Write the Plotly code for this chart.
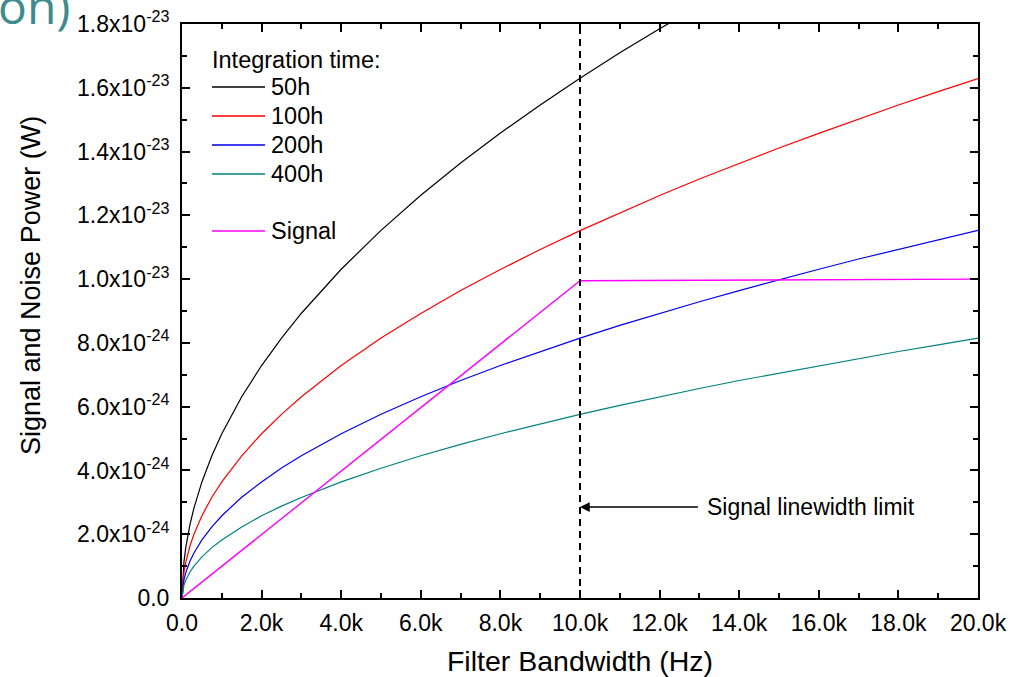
import plotly.graph_objects as go
import numpy as np

SCALE = 1e-23  # values below are in units of 1e-23 W

bandwidth_hz = [0, 50, 100, 200, 300, 500, 750, 1000, 1500, 2000, 2500, 3000, 4000, 5000,
                6000, 7000, 8000, 9000, 10000, 11000, 12000, 13000, 14000, 15000, 16000,
                17000, 18000, 19000, 20000]

noise_50h = [0, 0.115, 0.163, 0.230, 0.282, 0.364, 0.446, 0.515, 0.631, 0.729, 0.815, 0.893,
             1.031, 1.153, 1.263, 1.364, 1.458, 1.546, 1.630, 1.710, 1.785, 1.859, 1.929,
             1.996, 2.062, 2.125, 2.187, 2.247, 2.305]
noise_100h = [0, 0.0815, 0.115, 0.163, 0.200, 0.258, 0.316, 0.364, 0.446, 0.515, 0.576, 0.631,
              0.729, 0.815, 0.892, 0.964, 1.030, 1.093, 1.152, 1.208, 1.262, 1.314, 1.363,
              1.411, 1.457, 1.502, 1.546, 1.588, 1.629]
noise_200h = [0, 0.0576, 0.0815, 0.115, 0.141, 0.182, 0.223, 0.258, 0.316, 0.364, 0.408, 0.446,
              0.515, 0.576, 0.631, 0.682, 0.729, 0.773, 0.815, 0.855, 0.893, 0.929, 0.964,
              0.998, 1.031, 1.063, 1.093, 1.123, 1.153]
noise_400h = [0, 0.0407, 0.0576, 0.0815, 0.0998, 0.129, 0.158, 0.182, 0.223, 0.258, 0.288, 0.315,
              0.364, 0.407, 0.446, 0.482, 0.515, 0.546, 0.576, 0.604, 0.631, 0.657, 0.682,
              0.705, 0.729, 0.751, 0.773, 0.794, 0.815]

signal_bw_hz = [0, 10000, 20000]
signal_power = [0, 0.995, 1.0]

linewidth_limit_hz = 10000

series_names = ["50h", "100h", "200h", "400h", "Signal"]
series_colors = ["#000000", "#ff0000", "#0000ee", "#008080", "#ff00ff"]

x_tick_vals = [0, 2000, 4000, 6000, 8000, 10000, 12000, 14000, 16000, 18000, 20000]
x_tick_text = ["0.0", "2.0k", "4.0k", "6.0k", "8.0k", "10.0k", "12.0k", "14.0k", "16.0k",
               "18.0k", "20.0k"]
y_tick_vals = [0, 0.2, 0.4, 0.6, 0.8, 1.0, 1.2, 1.4, 1.6, 1.8]
y_tick_text = ["0.0", "2.0x10<sup>-24</sup>", "4.0x10<sup>-24</sup>", "6.0x10<sup>-24</sup>",
               "8.0x10<sup>-24</sup>", "1.0x10<sup>-23</sup>", "1.2x10<sup>-23</sup>",
               "1.4x10<sup>-23</sup>", "1.6x10<sup>-23</sup>", "1.8x10<sup>-23</sup>"]

FONT = "Liberation Sans, Arial, sans-serif"
TICK_SIZE = 23
LEG_SIZE = 23.5

# plot area in pixels (for layout helpers)
L, R, T, B = 182, 978, 24, 598
def px(xp):
    return (xp - L) / (R - L)
def py(yp):
    return (B - yp) / (B - T)

fig = go.Figure()
noise_series = [noise_50h, noise_100h, noise_200h, noise_400h]
for name, vals, col in zip(series_names[:4], noise_series, series_colors[:4]):
    fig.add_trace(go.Scatter(x=bandwidth_hz, y=np.array(vals) * SCALE, mode="lines",
                             name=name, showlegend=False, line=dict(color=col, width=1.2)))
fig.add_trace(go.Scatter(x=signal_bw_hz, y=np.array(signal_power) * SCALE, mode="lines",
                         name="Signal", showlegend=False,
                         line=dict(color=series_colors[4], width=1.4)))

# legend (drawn as key lines + labels)
legend_rows_y = [87, 116, 145, 174, 231]
fig.add_annotation(x=px(210), y=py(60), xref="paper", yref="paper", text="Integration time:",
                   showarrow=False, xanchor="left", yanchor="middle",
                   font=dict(family=FONT, size=LEG_SIZE, color="black"))
for name, col, ry in zip(series_names, series_colors, legend_rows_y):
    fig.add_shape(type="line", xref="paper", yref="paper", x0=px(212), x1=px(265),
                  y0=py(ry), y1=py(ry), line=dict(color=col, width=1.3))
    fig.add_annotation(x=px(269), y=py(ry), xref="paper", yref="paper", text=name,
                       showarrow=False, xanchor="left", yanchor="middle",
                       font=dict(family=FONT, size=LEG_SIZE, color="black"))

fig.add_shape(type="line", xref="x", yref="y", x0=linewidth_limit_hz, x1=linewidth_limit_hz,
              y0=0, y1=1.8 * SCALE, line=dict(color="black", width=2, dash="7px,5px"))

fig.add_annotation(x=linewidth_limit_hz, y=0.285 * SCALE, ax=13000, ay=0.285 * SCALE,
                   axref="x", ayref="y", xref="x", yref="y", text="", showarrow=True,
                   arrowhead=2, arrowsize=1.3, arrowwidth=1.5, arrowcolor="black", standoff=0)
fig.add_annotation(x=13150, y=0.285 * SCALE, xref="x", yref="y", text="Signal linewidth limit",
                   showarrow=False, xanchor="left", yanchor="middle",
                   font=dict(family=FONT, size=TICK_SIZE, color="black"))

# y axis title
fig.add_annotation(x=px(31), y=py(286), xref="paper", yref="paper",
                   text="Signal and Noise Power (W)", textangle=-90, showarrow=False,
                   xanchor="center", yanchor="middle",
                   font=dict(family=FONT, size=27, color="black"))

# cropped slide title fragment
fig.add_annotation(x=(72 - 182) / 796, y=(598 - 40) / 574, xref="paper", yref="paper",
                   text="on)", showarrow=False, xanchor="right", yanchor="bottom",
                   font=dict(family="Open Sans, sans-serif", size=48, color="#3f8a8f"))

axis_common = dict(showline=True, linewidth=2, linecolor="black", mirror="ticks",
                   ticks="inside", ticklen=8, tickwidth=2, tickcolor="black",
                   showgrid=False, zeroline=False, automargin=False,
                   tickfont=dict(family=FONT, size=TICK_SIZE, color="black"))

fig.update_xaxes(range=[0, 20000], tickmode="array", tickvals=x_tick_vals, ticktext=x_tick_text,
                 minor=dict(ticks="inside", ticklen=5, tickwidth=2, tickcolor="black",
                            tickmode="linear", tick0=0, dtick=1000),
                 ticklabelstandoff=3,
                 title=dict(text="Filter Bandwidth (Hz)",
                            font=dict(family=FONT, size=28.5, color="black"),
                            standoff=18),
                 **axis_common)
fig.update_yaxes(range=[0, 1.8 * SCALE], tickmode="array",
                 tickvals=[v * SCALE for v in y_tick_vals], ticktext=y_tick_text,
                 minor=dict(ticks="inside", ticklen=5, tickwidth=2, tickcolor="black",
                            tickmode="linear", tick0=0, dtick=0.1 * SCALE),
                 ticklabelstandoff=6,
                 **axis_common)

fig.update_layout(
    width=1019, height=677, autosize=False,
    margin=dict(l=182, r=41, t=24, b=79),
    paper_bgcolor="white", plot_bgcolor="white",
    font=dict(family=FONT, color="black"),
    showlegend=False,
)

fig.write_html("out.html")
